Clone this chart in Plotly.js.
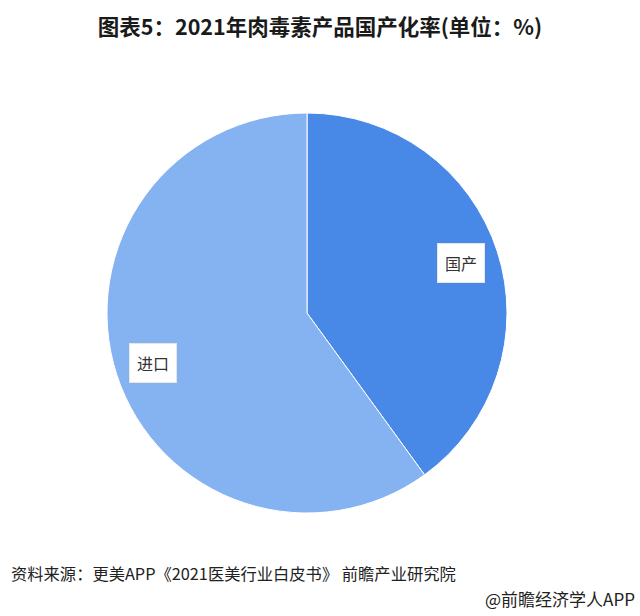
<!DOCTYPE html>
<html>
<head>
<meta charset="utf-8">
<script src="https://cdn.plot.ly/plotly-3.0.1.min.js"></script>
<style>
html,body{margin:0;padding:0;background:#fff;}
#chart{width:640px;height:616px;}
</style>
</head>
<body>
<div id="chart"></div>
<script>
const labels = ["国产", "进口"];
const values = [40, 60];
const colors = ["#4889E8", "#85B2F1"];

const W = 640, H = 616;
const cx = 307, cy = 313, R = 200;
const dom = {
  x: [(cx - R) / W, (cx + R) / W],
  y: [1 - (cy + R) / H, 1 - (cy - R) / H]
};

const total = values.reduce((a, b) => a + b, 0);
let acc = 0;
const labelAnn = labels.map((lab, i) => {
  const mid = (acc + values[i] / 2) / total * 2 * Math.PI;
  acc += values[i];
  const r = 0.81 * R;
  const px = cx + r * Math.sin(mid);
  const py = cy - r * Math.cos(mid);
  return {
    text: lab, x: px / W, y: 1 - py / H, xref: "paper", yref: "paper",
    xanchor: "center", yanchor: "middle",
    showarrow: false, bgcolor: "#ffffff", bordercolor: "#e6e6e6", borderwidth: 1,
    borderpad: 7, font: {family: "Noto Sans CJK SC", size: 16, color: "#333333"}
  };
});

const data = [{
  type: "pie",
  labels: labels,
  values: values,
  sort: false,
  direction: "clockwise",
  rotation: 0,
  marker: {colors: colors, line: {color: "#ffffff", width: 1}},
  textinfo: "none",
  hoverinfo: "label+percent",
  domain: dom,
  showlegend: false
}];

const layout = {
  width: W, height: H,
  margin: {l: 0, r: 0, t: 0, b: 0},
  paper_bgcolor: "#ffffff",
  showlegend: false,
  title: {
    text: "<b>图表5：2021年肉毒素产品国产化率(单位：%)</b>",
    x: 0.5, xanchor: "center", y: 1 - 27 / H, yanchor: "middle",
    font: {family: "Noto Sans CJK SC", size: 21.5, color: "#1a1a1a"}
  },
  annotations: labelAnn.concat([
    {text: "资料来源：更美APP《2021医美行业白皮书》 前瞻产业研究院", x: 9 / W, y: 1 - 573 / H,
     xref: "paper", yref: "paper", xanchor: "left", yanchor: "middle", showarrow: false,
     font: {family: "Noto Sans CJK SC", size: 16.3, color: "#222222"}},
    {text: "@前瞻经济学人APP", x: 637 / W, y: 1 - 598 / H,
     xref: "paper", yref: "paper", xanchor: "right", yanchor: "middle", showarrow: false,
     font: {family: "Noto Sans CJK SC", size: 17, color: "#222222"}}
  ])
};

Plotly.newPlot("chart", data, layout, {displayModeBar: false, staticPlot: true});
</script>
</body>
</html>
